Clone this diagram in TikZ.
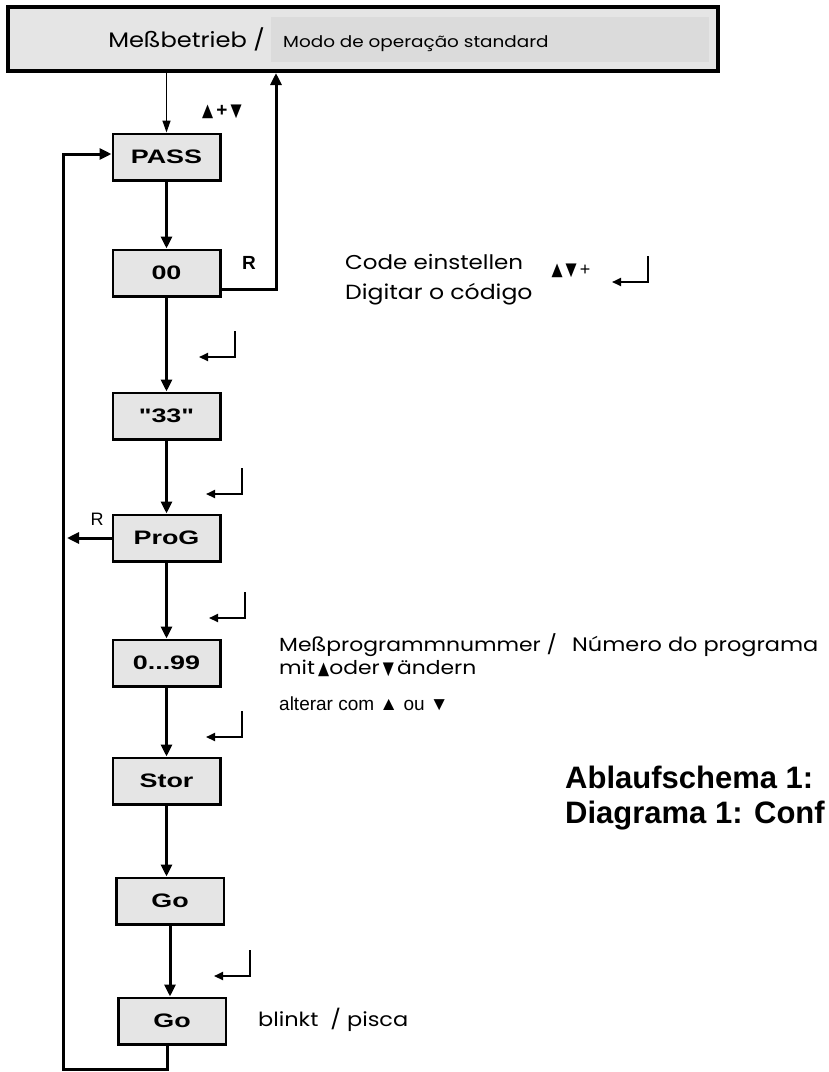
\documentclass[tikz,border=0pt]{standalone}
\usepackage{fontspec}
\setmainfont{Liberation Sans}
\newfontfamily\gothic[FakeStretch=1.15]{Poppins}
\newfontfamily\boxfont[FakeStretch=1.38]{Liberation Sans}
\newfontfamily\symb[FakeStretch=0.8]{DejaVu Sans}
\newcommand{\up}{{\symb\fontsize{18}{18}\selectfont▲}}
\newcommand{\dn}{{\symb\fontsize{18}{18}\selectfont▼}}
\usetikzlibrary{arrows.meta}

\begin{document}
\begin{tikzpicture}[x=1pt,y=-1pt,
		box/.style={draw,line width=2.5pt,fill=black!10,minimum width=107.5pt,minimum height=46.5pt,inner sep=0pt,
			font=\boxfont\bfseries\fontsize{19.5}{19.5}\selectfont},
		flow/.style={line width=3pt,-{Triangle[width=11pt,length=12pt]}},
		thinflow/.style={line width=1.5pt,-{Triangle[width=8pt,length=12pt]}},
		enter/.style={line width=2pt,-{Triangle[width=8pt,length=9pt]}},
		txt/.style={inner sep=0pt,anchor=base west,font=\gothic\fontsize{19}{19}\selectfont}]
	\useasboundingbox (0,0) rectangle (829,1072);

	% Kopfzeile
	\node[draw,line width=4pt,fill=black!10,minimum width=710pt,minimum height=64pt,inner sep=0pt] (top) at (363,39) {};
	\fill[black!14] (271,17) rectangle (709,62);
	\node[txt,anchor=base east,font=\gothic\fontsize{21}{21}\selectfont] (mess) at (265,47) {Meßbetrieb /};
	\node[txt,font=\gothic\fontsize{16}{16}\selectfont] (modo) at (283,47) {Modo de operação standard};

	% Ablauf
	\node[box] (pass) at (166.5,157) {PASS};
	\node[box] (z00) at (166.5,273) {00};
	\node[box] (z33) at (166.5,416) {"33"};
	\node[box] (prog) at (166.5,538) {ProG};
	\node[box] (num) at (166.5,663) {0...99};
	\node[box] (stor) at (166.5,781) {Stor};
	\node[box] (go1) at (170,901) {Go};
	\node[box] (go2) at (172,1021) {Go};

	\coordinate (rx) at (276,0);
	\coordinate (rend) at (67,538);
	\coordinate (loopc) at (63,1069);

	\draw[thinflow] (top.south -| pass.north) -- (pass.north);
	\draw[flow] (pass) -- (z00);
	\draw[flow] ([yshift=-16pt]z00.east) -| (top.south -| rx);
	\draw[flow] (z00) -- (z33);
	\draw[flow] (z33) -- (prog);
	\draw[flow] (prog.west) -- (rend);
	\draw[flow] (prog) -- (num);
	\draw[flow] (num) -- (stor);
	\draw[flow] (stor.south) -- (stor.south |- go1.north);
	\draw[flow] (go1.south) -- (go1.south |- go2.north);
	\draw[flow] ([xshift=-5pt]go2.south) |- (loopc) |- ([yshift=3pt]pass.west);

	% Enter-Symbole
	\foreach \x/\y in {648/256, 235/331, 242/468, 245/592, 242/711, 250/950}
		\draw[enter] (\x,\y) -- ++(0,26) -- ++(-36,0);

	% Beschriftungen
	\node[inner sep=0pt,font=\bfseries\fontsize{19}{19}\selectfont] (updown) at (222,112) {\up\,+\,\dn};
	\node[inner sep=0pt,font=\bfseries\fontsize{19}{19}\selectfont] (rbold) at (249,263) {R};
	\node[inner sep=0pt,font=\fontsize{18}{18}\selectfont] (rprog) at (97,519) {R};
	\node[txt,font=\gothic\fontsize{20}{20}\selectfont] (code) at (345,269) {Code einstellen};
	\node[txt,font=\gothic\fontsize{20.5}{20.5}\selectfont] (digit) at (345,299) {Digitar o código};
	\node[inner sep=0pt,font=\fontsize{18}{18}\selectfont] (codekeys) at (571,271) {\up\,\dn\,+};
	\node[txt] (mpn) at (279,651) {Meßprogrammnummer /};
	\node[txt,font=\gothic\fontsize{19.5}{19.5}\selectfont] (numero) at (572,651) {Número do programa};
	\node[txt] (mit) at (279,674) {mit\,\up oder\,\dn\,ändern};
	\node[inner sep=0pt,anchor=base west,font=\fontsize{19}{19}\selectfont] (alterar) at (279,710) {alterar com ▲ ou ▼};
	\node[inner sep=0pt,anchor=base west,font=\bfseries\fontsize{31}{31}\selectfont] (titel1) at (565,788) {Ablaufschema 1:};
	\node[inner sep=0pt,anchor=base west,font=\bfseries\fontsize{31}{31}\selectfont] (titel2) at (565,823) {Diagrama 1: Conf};
	\node[txt,font=\gothic\fontsize{19.5}{19.5}\selectfont] (blinkt) at (258,1026) {blinkt~ / pisca};
\end{tikzpicture}
\end{document}
